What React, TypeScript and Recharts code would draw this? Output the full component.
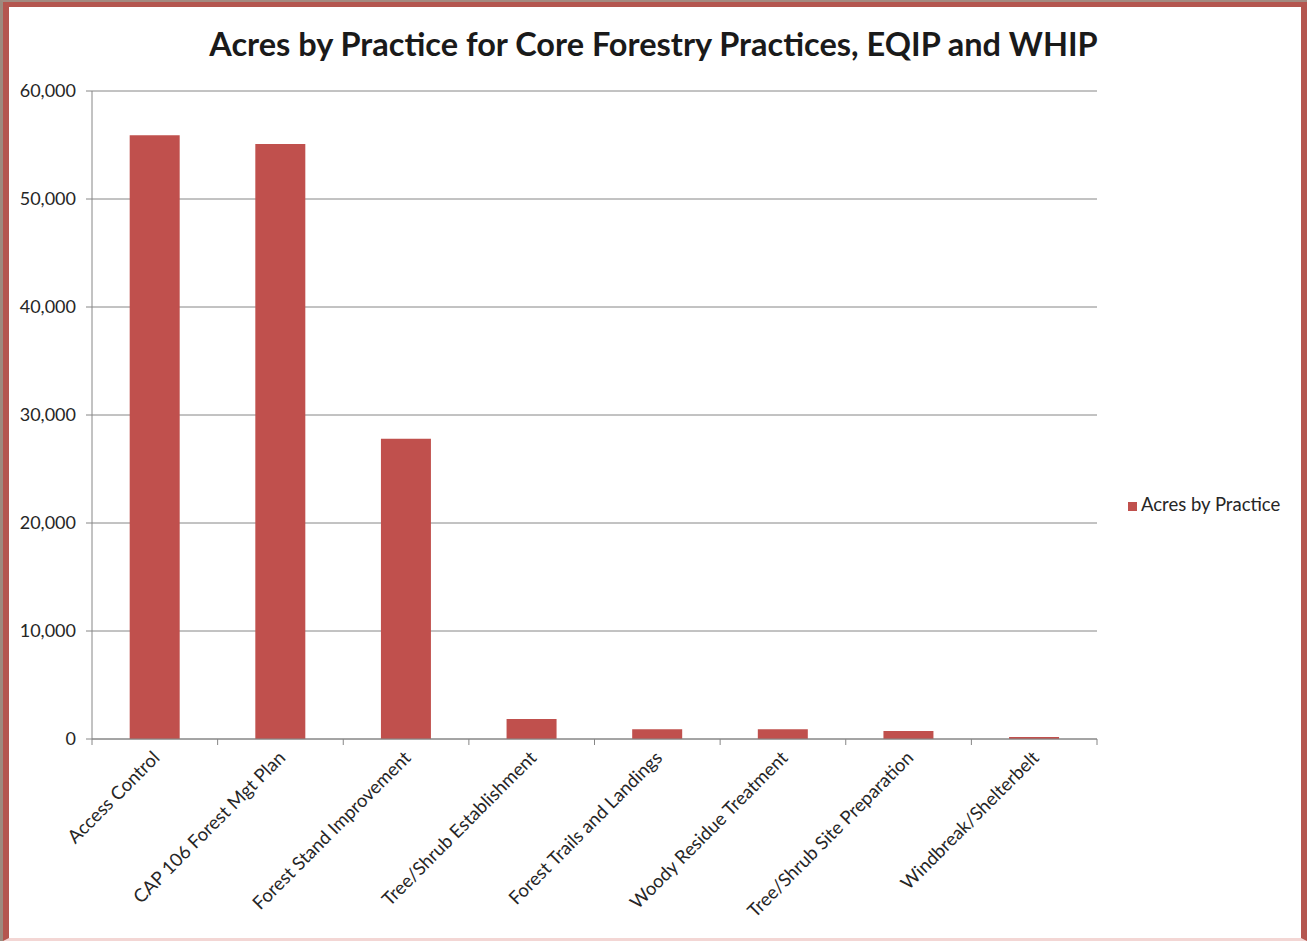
import { Bar, BarChart, CartesianGrid, Legend, XAxis, YAxis } from 'recharts'

const practices = [
  'Access Control',
  'CAP 106 Forest Mgt Plan',
  'Forest Stand Improvement',
  'Tree/Shrub Establishment',
  'Forest Trails and Landings',
  'Woody Residue Treatment',
  'Tree/Shrub Site Preparation',
  'Windbreak/Shelterbelt',
]
const acres = [55900, 55100, 27800, 1850, 900, 900, 740, 180]
const yTicks = [0, 10000, 20000, 30000, 40000, 50000, 60000]

const data = practices.map((name, i) => ({ name, acres: acres[i] }))

const FONT = 'Lato, "Open Sans", sans-serif'
const BAR = '#c0504d'
const AXIS = '#868686'

function XTick(props: any) {
  const { x, y, payload, index, visibleTicksCount } = props
  const half = payload.offset ?? 0
  return (
    <g>
      <line x1={x - half} x2={x - half} y1={y - 8} y2={y - 2} stroke={AXIS} />
      {index === visibleTicksCount - 1 && (
        <line x1={x + half} x2={x + half} y1={y - 8} y2={y - 2} stroke={AXIS} />
      )}
      <text
        x={0}
        y={0}
        transform={`translate(${x + 6},${y + 12}) rotate(-45)`}
        textAnchor="end"
        fontSize={18.5}
        fill="#262626"
        fontFamily={FONT}
      >
        {payload.value}
      </text>
    </g>
  )
}

export default function App() {
  return (
    <div style={{ position: 'absolute', left: 0, top: 0, width: 1307, height: 941, background: '#fff' }}>
      <style>{'body{margin:0}'}</style>
      <div
        style={{
          position: 'absolute',
          inset: 0,
          boxSizing: 'border-box',
          borderLeft: '3px solid #9d8a7e',
          borderTop: '2px solid #a38a80',
        }}
      />
      <div
        style={{
          position: 'absolute',
          left: 3,
          top: 2,
          right: 0,
          bottom: 0,
          boxSizing: 'border-box',
          borderLeft: '6px solid #b4564f',
          borderTop: '5px solid #b4564f',
          borderRight: '6px solid #b4564f',
          borderBottom: '3px solid #f3d6d4',
        }}
      />
      <div
        style={{
          position: 'absolute',
          left: 0,
          width: 1307,
          top: 24,
          textAlign: 'center',
          fontFamily: FONT,
          fontWeight: 700,
          fontSize: 32.5,
          color: '#1a1a1a',
        }}
      >
        Acres by Practice for Core Forestry Practices, EQIP and WHIP
      </div>
      <div style={{ position: 'absolute', left: 0, top: 0 }}>
        <BarChart
          width={1307}
          height={941}
          data={data}
          margin={{ top: 91, right: 30, left: 0, bottom: 0 }}
          barCategoryGap="30%"
        >
          <CartesianGrid vertical={false} stroke={AXIS} />
          <XAxis
            dataKey="name"
            height={202}
            interval={0}
            axisLine={{ stroke: AXIS }}
            tickLine={false}
            tick={<XTick />}
          />
          <YAxis
            width={92}
            domain={[0, 60000]}
            ticks={yTicks}
            tickFormatter={(v: number) => v.toLocaleString('en-US')}
            axisLine={{ stroke: AXIS }}
            tickLine={{ stroke: AXIS }}
            tickSize={6}
            tickMargin={10}
            tick={{ fill: '#262626', fontSize: 18, fontFamily: FONT }}
          />
          <Legend
            layout="vertical"
            align="right"
            verticalAlign="top"
            iconType="square"
            iconSize={9}
            wrapperStyle={{ top: 493, left: 1128, width: 180, fontFamily: FONT, fontSize: 18.5 }}
            formatter={(v: string) => <span style={{ color: '#262626' }}>{v}</span>}
          />
          <Bar dataKey="acres" name="Acres by Practice" fill={BAR} isAnimationActive={false} />
        </BarChart>
      </div>
    </div>
  )
}
